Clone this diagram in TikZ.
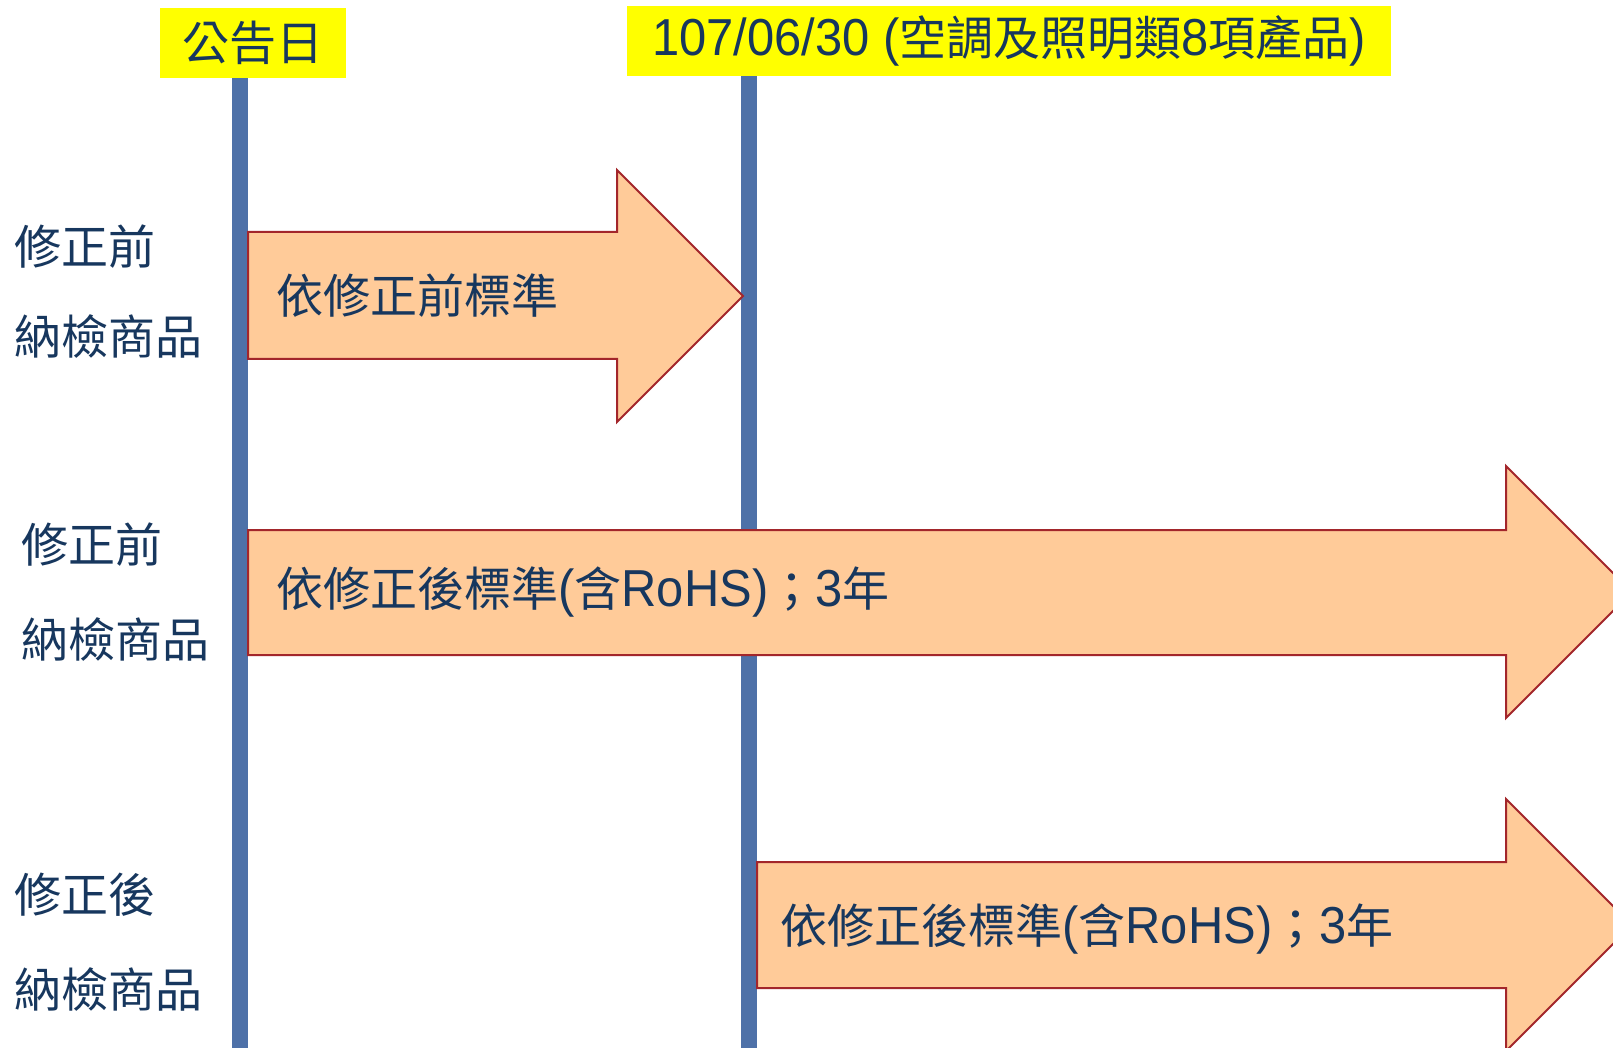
\documentclass[tikz,border=0pt]{standalone}
\usepackage{fontspec}
\setmainfont{Noto Sans CJK TC}
\newfontfamily\latfont[FakeStretch=0.94]{Liberation Sans}
\newcommand\lat[1]{{\latfont\fontsize{26}{30}\selectfont #1}}

\definecolor{dateyellow}{HTML}{FFFF00}
\definecolor{lineblue}{HTML}{4E71A8}
\definecolor{arrowfill}{HTML}{FFCB99}
\definecolor{arrowedge}{HTML}{A3262B}
\definecolor{textnavy}{HTML}{17375E}

\tikzset{
    datebox/.style   = {fill = dateyellow, inner sep = 0pt, text = textnavy,
                        font = \fontsize{23.5}{28}\selectfont},
    dateline/.style  = {draw = lineblue, line width = 8pt},
    stdarrow/.style  = {fill = arrowfill, draw = arrowedge, line width = 1pt},
    lbl/.style       = {anchor = west, inner sep = 0pt, text = textnavy,
                        font = \fontsize{23.5}{28}\selectfont},
}

\begin{document}
\begin{tikzpicture}[x = 0.5pt, y = -0.5pt]

    \def\width  {1613}
    \def\height {1048}

    % page
    \path [fill = white, use as bounding box] (0, 0) rectangle (\width, \height);
    \clip (0, 0) rectangle (\width, \height);

    % dates
    \node [datebox, minimum width = 93pt, minimum height = 35pt] (day1) at (253, 43) {公告日};
    \node [datebox, minimum width = 382pt, minimum height = 35pt] (day2) at (1009, 41)
        {\lat{107/06/30 (}空調及照明類\lat{8}項產品\lat{)}};

    % time lines
    \coordinate (day1 end) at (240, \height);
    \coordinate (day2 end) at (749, \height);
    \draw [dateline] (day1 end |- day1.south) -- (day1 end);
    \draw [dateline] (day2 end |- day2.south) -- (day2 end);

    % arrow 1
    \path [stdarrow] (248, 232) -- (617, 232) -- (617, 170) -- (743, 296)
        -- (617, 422) -- (617, 359) -- (248, 359) -- cycle;
    % arrow 2
    \path [stdarrow] (248, 530) -- (1506, 530) -- (1506, 466) -- (1632, 592)
        -- (1506, 718) -- (1506, 655) -- (248, 655) -- cycle;
    % arrow 3
    \path [stdarrow] (757, 862) -- (1506, 862) -- (1506, 799) -- (1632, 925)
        -- (1506, 1051) -- (1506, 988) -- (757, 988) -- cycle;

    % arrow texts
    \node [lbl] (std1) at (276, 296) {依修正前標準};
    \node [lbl] (std2) at (276, 592) {依修正後標準\lat{(}含\lat{RoHS)}；\lat{3}年};
    \node [lbl] (std3) at (780, 929) {依修正後標準\lat{(}含\lat{RoHS)}；\lat{3}年};

    % row labels
    \node [lbl] (row1 top) at (14, 247) {修正前};
    \node [lbl] (row1 bot) at (14, 337) {納檢商品};
    \node [lbl] (row2 top) at (21, 545) {修正前};
    \node [lbl] (row2 bot) at (21, 640) {納檢商品};
    \node [lbl] (row3 top) at (14, 895) {修正後};
    \node [lbl] (row3 bot) at (14, 990) {納檢商品};

\end{tikzpicture}
\end{document}
